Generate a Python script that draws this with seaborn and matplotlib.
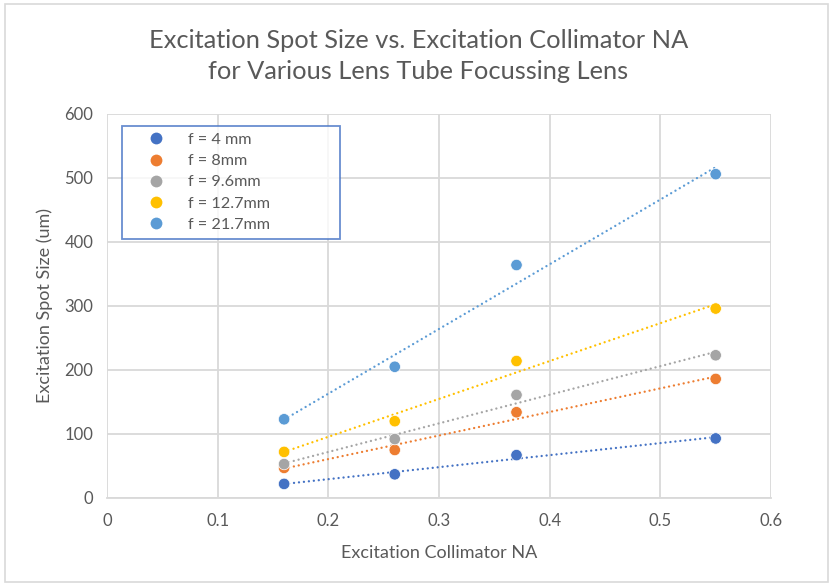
import numpy as np
import pandas as pd
import matplotlib
matplotlib.use('Agg')
import matplotlib.pyplot as plt
import seaborn as sns
from matplotlib.lines import Line2D
from matplotlib.patches import Rectangle

collimator_na = [0.16, 0.26, 0.37, 0.55]
lens_labels = ['f = 4 mm', 'f = 8mm', 'f = 9.6mm', 'f = 12.7mm', 'f = 21.7mm']
spot_f4 = [22, 37, 67, 93]
spot_f8 = [47, 75, 134, 186]
spot_f96 = [53, 92, 161, 223]
spot_f127 = [72, 120, 214, 296]
spot_f217 = [123, 205, 364, 506]
colors = ['#4472C4', '#ED7D31', '#A5A5A5', '#FFC000', '#5B9BD5']

all_series = [spot_f4, spot_f8, spot_f96, spot_f127, spot_f217]
df = pd.DataFrame({
    'na': collimator_na * len(lens_labels),
    'spot': [v for s in all_series for v in s],
    'lens': [lab for lab in lens_labels for _ in collimator_na],
})

sns.set_style('white')
plt.rcParams['font.family'] = ['Lato', 'DejaVu Sans']
text_col = '#595959'

fig = plt.figure(figsize=(8.33, 5.86), dpi=100)
ax = fig.add_axes([0.1285, 0.1502, 0.7971, 0.6553])

# trendlines (linear fit), dotted, under the points
for vals, c in zip(all_series, colors):
    k, b = np.polyfit(collimator_na, vals, 1)
    xs = np.array([min(collimator_na), max(collimator_na)])
    ax.plot(xs, k * xs + b, color=c, lw=1.7, linestyle=(0, (0.01, 2.1)),
            dash_capstyle='round', zorder=2)

sns.scatterplot(data=df, x='na', y='spot', hue='lens', palette=colors,
                hue_order=lens_labels, s=68, edgecolor='white', linewidth=0.5,
                ax=ax, legend=False, zorder=3)

ax.set_xlim(0, 0.6)
ax.set_ylim(0, 600)
ax.set_xticks(np.arange(0, 0.61, 0.1))
ax.set_xticklabels(['0', '0.1', '0.2', '0.3', '0.4', '0.5', '0.6'])
ax.set_yticks(np.arange(0, 601, 100))
ax.grid(True, color='#D9D9D9', lw=1.3)
ax.set_axisbelow(True)
for side in ['top', 'right', 'left']:
    ax.spines[side].set_visible(False)
ax.spines['bottom'].set_color('#D9D9D9')
ax.spines['bottom'].set_linewidth(1.3)
ax.tick_params(length=0, labelsize=12, colors=text_col)
ax.tick_params(axis='y', pad=10)
ax.tick_params(axis='x', pad=11)

ax.set_xlabel('Excitation Collimator NA', fontsize=13, color=text_col, labelpad=11)
ax.set_ylabel('Excitation Spot Size (um)', fontsize=13, color=text_col, labelpad=8)

fig.text(0.502, 0.905, 'Excitation Spot Size vs. Excitation Collimator NA\nfor Various Lens Tube Focussing Lens',
         ha='center', va='center', fontsize=18.3, color=text_col, linespacing=1.42)

handles = [Line2D([0], [0], marker='o', color='none', markerfacecolor=c,
                  markeredgecolor='none', markersize=8.5) for c in colors]
leg = ax.legend(handles, lens_labels, loc='upper left',
                bbox_to_anchor=(0.0226, 0.969, 0.328, 0.0), mode='expand',
                frameon=True, fancybox=False, fontsize=11.7, handletextpad=0.25,
                labelspacing=0.42, borderpad=0.42, handlelength=3.4,
                labelcolor=text_col, borderaxespad=0)
leg.get_frame().set_edgecolor('#4472C4')
leg.get_frame().set_linewidth(1.3)

# chart area border
fig.patches.append(Rectangle((0.006, 0.006), 0.988, 0.988, transform=fig.transFigure,
                             fill=False, edgecolor='#D9D9D9', lw=1.2))

fig.savefig('out.png', dpi=100)
